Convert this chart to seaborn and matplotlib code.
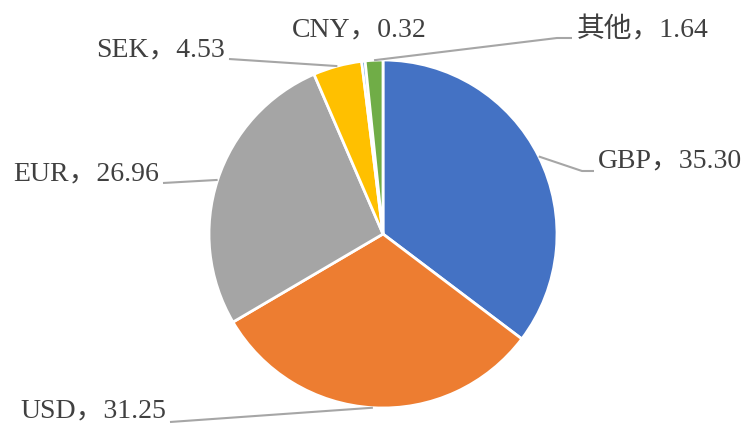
import matplotlib
matplotlib.use("Agg")
import matplotlib.pyplot as plt
import seaborn as sns
import numpy as np

# data
currencies = ["GBP", "USD", "EUR", "SEK", "CNY", "其他"]
shares = [35.30, 31.25, 26.96, 4.53, 0.32, 1.64]
colors = ["#4472C4", "#ED7D31", "#A5A5A5", "#FFC000", "#5B9BD5", "#70AD47"]

sns.set_theme(style="white")
plt.rcParams["font.family"] = ["Liberation Serif", "Noto Sans CJK SC"]

W, H = 745, 424
fig = plt.figure(figsize=(W / 100, H / 100), dpi=100)
ax = fig.add_axes([0, 0, 1, 1])


def px(x, y):
    # pixel position (y down) -> data coords (y up)
    return x, H - y


cx, cy = px(383, 234)
R = 174
wedges, _ = ax.pie(shares, colors=sns.color_palette(colors), startangle=90,
                   counterclock=False, center=(cx, cy), radius=R,
                   wedgeprops=dict(edgecolor="white", linewidth=2))
ax.set_xlim(0, W)
ax.set_ylim(0, H)
ax.set_aspect("equal")
ax.axis("off")

# label layout: text anchor, alignment, leader line path (None = no line)
layout = {
    "GBP": dict(xy=(598, 161), ha="left", path=[(582, 171), (594, 171)]),
    "USD": dict(xy=(166, 411), ha="right", path=[(170, 422)]),
    "EUR": dict(xy=(159, 174), ha="right", path=[(163, 183)]),
    "SEK": dict(xy=(225, 50), ha="right", path=[(229, 59)]),
    "CNY": dict(xy=(292, 30), ha="left", path=None),
    "其他": dict(xy=(577, 30), ha="left", path=[(557, 38), (572, 38)]),
}

for w, name, val in zip(wedges, currencies, shares):
    mid = np.deg2rad((w.theta1 + w.theta2) / 2)
    start = (cx + R * np.cos(mid), cy + R * np.sin(mid))
    lay = layout[name]
    if lay["path"]:
        pts = [start] + [px(*p) for p in lay["path"]]
        xs, ys = zip(*pts)
        ax.plot(xs, ys, color="#A6A6A6", lw=1.5, solid_capstyle="butt")
    tx, ty = px(*lay["xy"])
    ax.text(tx, ty, f"{name}，{val:.2f}", ha=lay["ha"], va="center",
            fontsize=20, color="#404040")

fig.savefig("out.png", dpi=100)
